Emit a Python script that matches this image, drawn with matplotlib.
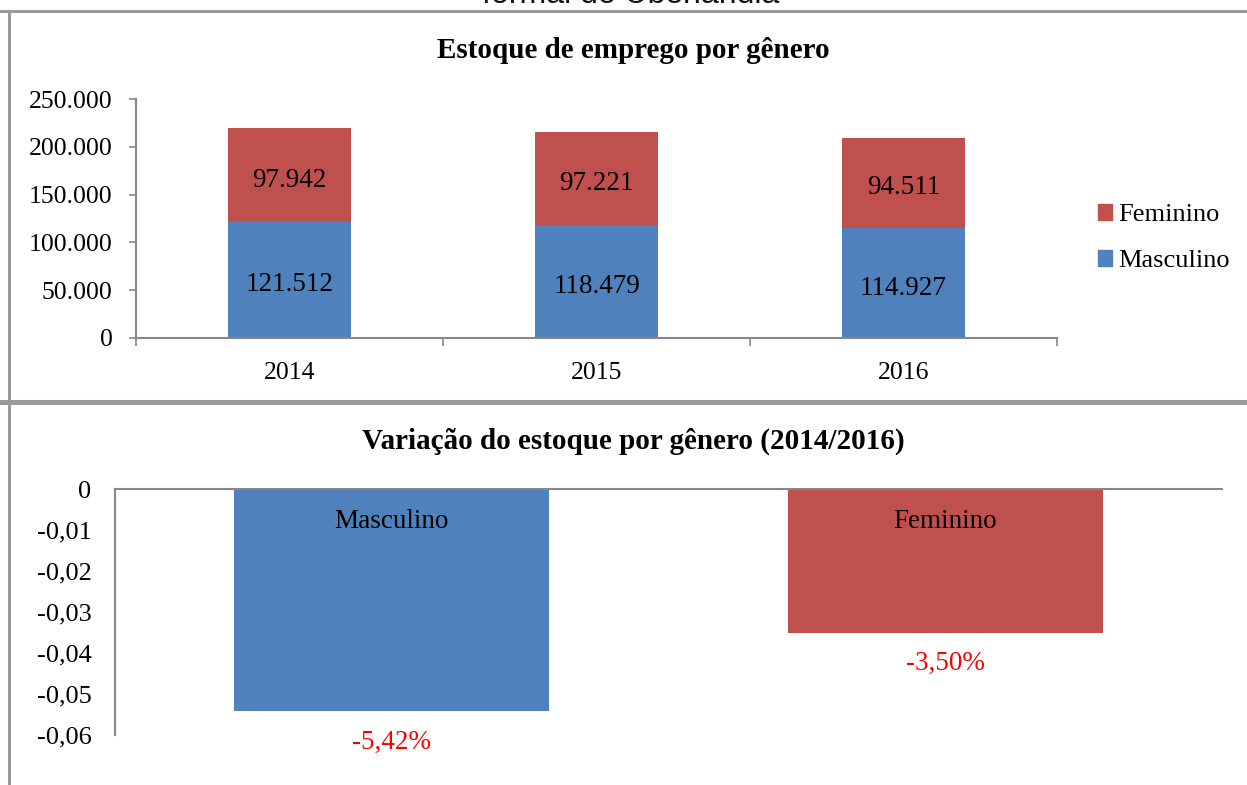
import matplotlib
matplotlib.use("Agg")
import matplotlib.pyplot as plt
from matplotlib.lines import Line2D
from matplotlib.patches import Patch
import numpy as np

years = ["2014", "2015", "2016"]
masculino = [121512, 118479, 114927]
feminino = [97942, 97221, 94511]
yticks_top = [0, 50000, 100000, 150000, 200000, 250000]

var_labels = ["Masculino", "Feminino"]
var_values = [-0.0542, -0.0350]
var_texts = ["-5,42%", "-3,50%"]
yticks_bot = [0, -0.01, -0.02, -0.03, -0.04, -0.05, -0.06]

BLUE = "#4F81BD"
RED = "#C0504D"
GRAY = "#878787"

plt.rcParams['font.family'] = ['Liberation Serif', 'DejaVu Serif']

W, H = 1247, 785
fig = plt.figure(figsize=(W / 100, H / 100), dpi=100)

def fx(px):
    return px / W

def fy(py):
    return 1 - py / H

# panel frame lines
for (x0, y0, x1, y1) in [(0, 11, W, 11), (9, 11, 9, 401), (0, 401, W, 401), (9, 404, 9, H)]:
    fig.add_artist(Line2D([fx(x0), fx(x1)], [fy(y0), fy(y1)], color="#9a9a9a", lw=2.2))
fig.add_artist(Line2D([fx(0), fx(W)], [fy(404), fy(404)], color="#9a9a9a", lw=1.5))

# cut-off heading at top
fig.text(fx(631), fy(3), "formal de Uberlândia", ha="center", va="baseline",
         fontsize=23, family=["Liberation Sans", "DejaVu Sans"], color="#111111")

# ---- top chart ----
ax1 = fig.add_axes([fx(136), fy(338), fx(1057) - fx(136), fy(99) - fy(338)])
x = np.arange(len(years))
bw = 0.4
ax1.bar(x, masculino, bw, color=BLUE, label="Masculino")
ax1.bar(x, feminino, bw, bottom=masculino, color=RED, label="Feminino")
px_per_val = 239 / 250000
off = 5 / px_per_val
for i in range(len(years)):
    ax1.text(x[i], masculino[i] / 2 - off, f"{masculino[i]:,}".replace(",", "."),
             ha="center", va="center", fontsize=19.5)
    ax1.text(x[i], masculino[i] + feminino[i] / 2 - off, f"{feminino[i]:,}".replace(",", "."),
             ha="center", va="center", fontsize=19.5)
ax1.set_xlim(-0.5, len(years) - 0.5)
ax1.set_ylim(0, 250000)
ax1.set_yticks(yticks_top)
ax1.set_yticklabels([f"{v:,}".replace(",", ".") for v in yticks_top], fontsize=18.5)
ax1.set_xticks(x)
ax1.set_xticklabels(years, fontsize=18.5)
ax1.set_xticks(np.arange(-0.5, len(years)), minor=True)
ax1.tick_params(axis="x", which="major", length=0, pad=17)
ax1.tick_params(axis="x", which="minor", length=6, color=GRAY, width=1.2)
ax1.tick_params(axis="y", length=5, color=GRAY, width=1.2, pad=12)
for s in ["top", "right"]:
    ax1.spines[s].set_visible(False)
for s in ["left", "bottom"]:
    ax1.spines[s].set_color(GRAY)
    ax1.spines[s].set_linewidth(1.5)
fig.text(fx(633), fy(51), "Estoque de emprego por gênero", ha="center", va="center",
         fontsize=21, fontweight="bold")

handles = [Patch(color=RED, label="Feminino"), Patch(color=BLUE, label="Masculino")]
fig.legend(handles=handles, loc="center left", bbox_to_anchor=(fx(1087), fy(238)),
           frameon=False, fontsize=19, handlelength=0.55, handleheight=0.55,
           handletextpad=0.25, labelspacing=0.9, borderaxespad=0)

# ---- bottom chart ----
ax2 = fig.add_axes([fx(115), fy(735), fx(1222) - fx(115), fy(489) - fy(735)])
xb = np.arange(len(var_labels))
bw2 = 0.57
colors = [BLUE, RED]
ax2.bar(xb, var_values, bw2, color=colors)
ax2.set_xlim(-0.5, len(var_labels) - 0.5)
ax2.set_ylim(-0.06, 0)
ax2.set_yticks(yticks_bot)
ax2.set_yticklabels([("0" if v == 0 else f"{v:.2f}".replace(".", ",")) for v in yticks_bot], fontsize=19)
ax2.tick_params(axis="y", length=0, pad=17)
ax2.set_xticks([])
for s in ["bottom", "right"]:
    ax2.spines[s].set_visible(False)
for s in ["left", "top"]:
    ax2.spines[s].set_color(GRAY)
    ax2.spines[s].set_linewidth(1.5)
px_per_unit = 246 / 0.06
for i in range(len(var_labels)):
    ax2.text(xb[i], -32 / px_per_unit, var_labels[i], ha="center", va="center", fontsize=19.5)
    ax2.text(xb[i], var_values[i] - 31 / px_per_unit, var_texts[i], ha="center", va="center",
             fontsize=19.5, color="#FF0000")
fig.text(fx(633), fy(441), "Variação do estoque por gênero (2014/2016)", ha="center",
         va="center", fontsize=21, fontweight="bold")

fig.savefig("out.png", dpi=100)
